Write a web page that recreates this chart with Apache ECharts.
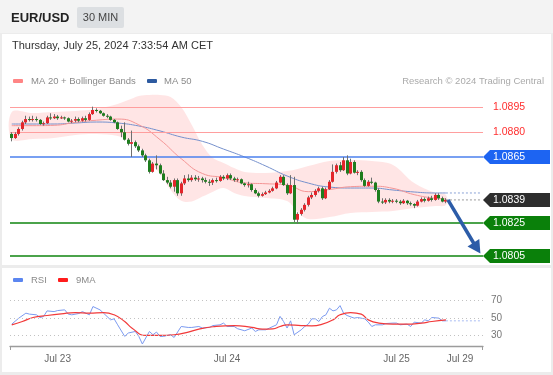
<!DOCTYPE html>
<html><head><meta charset="utf-8">
<script src="https://cdn.jsdelivr.net/npm/echarts@6/dist/echarts.min.js"></script>
<style>
html,body{margin:0;padding:0;background:#ececec;}
#wrap{position:relative;width:553px;height:375px;overflow:hidden;}
.bg{position:absolute;}
#c{position:absolute;left:0;top:0;width:553px;height:375px;}
</style>
</head><body>
<div id="wrap">
<div class="bg" style="left:0;top:0;width:553px;height:33px;background:#f3f3f3"></div>
<div class="bg" style="left:2px;top:34px;width:549px;height:231px;background:#fff"></div>
<div class="bg" style="left:2px;top:268px;width:549px;height:104px;background:#fff"></div>
<div id="c"></div>
</div>
<script>
const FONT = 'Arial, "Liberation Sans", sans-serif';
const instrument = 'EUR/USD';
const timeframe = '30 MIN';
const timestampText = 'Thursday, July 25, 2024 7:33:54 AM CET';
const copyrightText = 'Research \u00a9 2024 Trading Central';

const slotCount = 134;
const xTickIdx = [13, 61, 109, 127];
const xTickLabels = ['Jul 23', 'Jul 24', 'Jul 25', 'Jul 29'];

// [open, close, low, high]
const candles = [
[1.0879,1.08765,1.08745,1.0880],[1.08765,1.0879,1.0876,1.0880],[1.0879,1.0882,1.0878,1.0883],[1.0882,1.0886,1.0881,1.0887],
[1.0886,1.0888,1.0885,1.0890],[1.0888,1.08875,1.08865,1.08895],[1.08875,1.0888,1.08865,1.0890],[1.0888,1.08875,1.08865,1.08895],
[1.08875,1.0885,1.08845,1.0888],[1.0885,1.08855,1.0884,1.08865],[1.08855,1.0889,1.0885,1.0890],[1.0889,1.08885,1.08875,1.08915],
[1.08885,1.08895,1.0888,1.0891],[1.08895,1.08885,1.08875,1.08905],[1.08885,1.0889,1.0888,1.0890],[1.0889,1.08885,1.08875,1.08895],
[1.08885,1.08865,1.0886,1.0889],[1.08865,1.0887,1.08855,1.0888],[1.0887,1.0888,1.0886,1.08895],[1.0888,1.0887,1.0886,1.0889],
[1.0887,1.08885,1.08865,1.08895],[1.08885,1.08875,1.08865,1.0890],[1.08875,1.0891,1.0887,1.0892],[1.0891,1.08935,1.08905,1.08955],
[1.08935,1.0893,1.0892,1.08945],[1.0893,1.08915,1.0891,1.08935],[1.08915,1.0890,1.08895,1.0892],[1.0890,1.08895,1.08885,1.0891],
[1.08895,1.08875,1.0887,1.0890],[1.08875,1.0886,1.08855,1.0888],[1.0886,1.0882,1.08815,1.08865],[1.0882,1.0880,1.0877,1.0884],
[1.0880,1.08755,1.0875,1.0886],[1.08755,1.0873,1.0872,1.08765],[1.0873,1.0874,1.0865,1.0881],[1.0874,1.08715,1.08705,1.0875],
[1.08715,1.0869,1.0868,1.08725],[1.0869,1.0866,1.0865,1.0870],[1.0866,1.0863,1.0862,1.0867],[1.0863,1.0856,1.0855,1.0864],
[1.0856,1.0861,1.08555,1.0862],[1.0861,1.0860,1.08575,1.0866],[1.0860,1.0855,1.08545,1.0861],[1.0855,1.0851,1.08505,1.0857],
[1.0851,1.08495,1.08485,1.0853],[1.08495,1.0847,1.0846,1.0851],[1.0847,1.0851,1.0844,1.0852],[1.0851,1.0843,1.08415,1.0852],
[1.0843,1.0849,1.08415,1.0850],[1.0849,1.0852,1.0848,1.0854],[1.0852,1.0851,1.0850,1.08545],[1.0851,1.08525,1.0850,1.0854],
[1.08525,1.08515,1.08505,1.0854],[1.08515,1.0852,1.0850,1.08535],[1.0852,1.0851,1.08495,1.0853],[1.0851,1.0850,1.0849,1.08525],
[1.0850,1.08495,1.08475,1.08515],[1.08495,1.0851,1.0848,1.0852],[1.0851,1.08505,1.08495,1.08525],[1.08505,1.0853,1.0850,1.0854],
[1.0853,1.0852,1.0851,1.0854],[1.0852,1.0854,1.0851,1.0855],[1.0854,1.0852,1.0851,1.0855],[1.0852,1.0851,1.0850,1.0853],
[1.0851,1.08515,1.0850,1.08525],[1.08515,1.0849,1.08485,1.0852],[1.0849,1.0848,1.0847,1.08495],[1.0848,1.08485,1.08465,1.0850],
[1.08485,1.0845,1.0844,1.0849],[1.0845,1.0843,1.08425,1.0846],[1.0843,1.08415,1.08405,1.0844],[1.08415,1.08425,1.0841,1.08435],
[1.08425,1.08435,1.0842,1.08445],[1.08435,1.08445,1.0843,1.08455],[1.08445,1.0846,1.0844,1.0847],[1.0846,1.08495,1.08455,1.08505],
[1.08495,1.0853,1.0849,1.0854],[1.0853,1.0848,1.08475,1.0854],[1.0848,1.0843,1.0842,1.0849],[1.0843,1.0848,1.08425,1.0854],
[1.0848,1.0827,1.08255,1.0853],[1.0827,1.08305,1.08245,1.08315],[1.08305,1.0833,1.08295,1.0834],[1.0833,1.0836,1.0832,1.0837],
[1.0836,1.08405,1.0835,1.08415],[1.08405,1.0842,1.08395,1.08435],[1.0842,1.08445,1.0841,1.08455],[1.08445,1.0846,1.08435,1.0847],
[1.0846,1.0840,1.0839,1.0847],[1.0840,1.08455,1.08395,1.08465],[1.08455,1.0850,1.0845,1.0851],[1.0850,1.0856,1.08495,1.08605],
[1.0856,1.0860,1.0855,1.0861],[1.0860,1.0857,1.0856,1.0862],[1.0857,1.0863,1.08565,1.0865],[1.0863,1.0855,1.0854,1.0866],
[1.0855,1.0862,1.08545,1.0864],[1.0862,1.08555,1.0855,1.0863],[1.08555,1.0856,1.0854,1.0857],[1.0856,1.0851,1.0850,1.0857],
[1.0851,1.08475,1.0847,1.0852],[1.08475,1.0850,1.0847,1.0851],[1.0850,1.08495,1.08485,1.08525],[1.08495,1.0845,1.0844,1.0850],
[1.0845,1.0838,1.0837,1.0846],[1.0838,1.08375,1.08365,1.0840],[1.08375,1.0839,1.08365,1.0840],[1.0839,1.0838,1.0837,1.0840],
[1.0838,1.08385,1.0837,1.08395],[1.08385,1.0838,1.0837,1.08395],[1.0838,1.0837,1.0836,1.0839],[1.0837,1.08385,1.08365,1.08395],
[1.08385,1.0837,1.0836,1.0839],[1.0837,1.08365,1.08355,1.0838],[1.08365,1.08355,1.0834,1.0837],[1.08355,1.0838,1.0835,1.0839],
[1.0838,1.08395,1.08375,1.08405],[1.08395,1.08385,1.08375,1.08405],[1.08385,1.0840,1.0838,1.0841],[1.0840,1.0839,1.0838,1.08415],
[1.0839,1.0842,1.08385,1.0843],[1.0842,1.0840,1.0839,1.0843],[1.0840,1.0838,1.08375,1.0841],[1.0838,1.0839,1.0837,1.0840]
];

const bandIdx = [0,6,12,18,24,30,33,36,39,42,45,48,51,54,57,60,63,66,72,78,81,84,90,96,102,108,114,120,123];
const bbUpper = [1.08923,1.08917,1.08923,1.08929,1.08941,1.08971,1.08995,1.0902,1.09026,1.09026,1.09014,1.08953,1.08844,1.08723,1.08644,1.08614,1.08583,1.08559,1.08553,1.08565,1.08577,1.08595,1.08626,1.08632,1.08626,1.08602,1.08492,1.08432,1.0842];
const bbLower = [1.08759,1.08759,1.08765,1.08783,1.08789,1.08777,1.08753,1.08717,1.0862,1.0855,1.0845,1.08385,1.0838,1.0841,1.0844,1.08462,1.08432,1.08414,1.08402,1.08383,1.08317,1.08274,1.08286,1.08311,1.08317,1.08323,1.08341,1.08353,1.08359];

const maIdx = [0,6,12,18,24,30,36,42,48,54,60,66,72,78,84,90,96,102,108,114,120,123];
const ma20 = [1.0884,1.0884,1.08842,1.0886,1.08873,1.0888,1.08845,1.08755,1.0864,1.0855,1.08525,1.08493,1.08488,1.0848,1.0844,1.08453,1.0847,1.08473,1.0846,1.08422,1.084,1.08396];
const ma50 = [1.0885,1.0885,1.0885,1.08856,1.08862,1.08856,1.08838,1.08808,1.08771,1.08745,1.08698,1.0865,1.08595,1.08535,1.08492,1.08468,1.08462,1.08462,1.0845,1.08438,1.08432,1.08432];

const levelValues = [1.0895, 1.0880, 1.0865, 1.0839, 1.0825, 1.0805];
const levelLabels = ['1.0895', '1.0880', '1.0865', '1.0839', '1.0825', '1.0805'];
const levelKinds = ['resistance', 'resistance', 'pivot', 'last', 'support', 'support'];
const forecastTarget = [132, 1.0809];

const rsiIdx = [0,2,4,5,7,8,9,10,12,13,15,16,17,19,20,22,23,25,26,28,29,30,32,33,35,36,37,39,40,41,42,43,44,45,46,48,50,51,53,54,56,57,59,60,61,63,64,66,68,69,70,72,73,75,76,77,78,79,80,82,83,84,85,86,87,88,89,90,91,92,93,94,95,97,98,100,101,102,103,105,106,108,109,110,112,113,114,116,117,118,119,121,122,123];
const rsiVal = [43.1,50,55.7,54.6,53.8,50.7,51.8,58.3,57.5,58.7,59.5,54.6,53.8,55.3,57.5,53.8,63.3,59.5,55.7,48,49.2,42.3,29,32.9,34.7,29,20.3,34.7,30.9,34,29,29,30.1,30.9,27.8,40.4,39.3,39.3,40.4,38.6,39.3,41.5,42.3,44.3,40.4,40.4,37.8,35.5,38.6,34.7,36.6,36.6,38.6,42.3,52,46.1,38.6,46.9,30.9,36.6,40.4,43.1,49.2,49.2,46.1,51.8,53.8,61.4,58.3,59.5,64.4,55.7,53,50,50.7,49.2,45.4,40.4,42.3,42.3,43.8,44.3,44.3,42.3,43.1,40.4,45.4,44.3,48,46.9,50.7,50,46.9,46.9];
const ma9Idx = [0,3,6,10,14,18,22,26,29,32,34,38,42,46,50,53,57,63,68,71,74,76,78,82,85,88,91,93,96,99,101,104,108,112,116,119,123];
const ma9Val = [42.3,46.1,50.7,53,54.9,56.4,55.7,56.4,53.8,46.1,38.6,30.1,30.1,30.9,34,37.4,40.1,41.5,39.3,37.4,37.6,40.4,42.3,41.5,41.2,43.1,48,53.8,56.4,54.6,48,44.3,43.1,43.1,44.3,46.1,48];
const rsiLevels = [70, 50, 30];

// ---------- build ----------
const categories = Array.from({length: slotCount}, (_, i) => String(i));
const zip = (a, b) => a.map((v, i) => [v, b[i]]);
const lastIdx = candles.length - 1;
const lastClose = candles[lastIdx][1];
const endIdx = slotCount - 1;

const C_BULL = '#e3252b', C_BEAR = '#1e7d1e', C_WICK = '#6f6f6f';
const tagColors = {pivot: '#1d64f2', last: '#2e2e2e', support: '#0a800a'};
const lineColors = {resistance: '#ff9e9e', pivot: '#4b80ee', support: '#0f850f'};
const ARROW_COLOR = '#2c5ca8';

const chart = echarts.init(document.getElementById('c'), null, {renderer: 'canvas', width: 553, height: 375});

const txt = (x, y, text, size, color, extra) => Object.assign({
  type: 'text', x, y, silent: true,
  style: Object.assign({text, fontSize: size, fontFamily: FONT, fill: color, verticalAlign: 'middle', align: 'left'}, extra || {})
});
const rect = (x, y, w, h, color, r) => ({type: 'rect', silent: true, shape: {x, y, width: w, height: h, r: r || 0}, style: {fill: color}});

const option = {
  animation: false,
  textStyle: {fontFamily: FONT},
  grid: [
    {left: 10, right: 70, top: 90, height: 175},
    {left: 10, right: 70, top: 292, height: 54}
  ],
  xAxis: [
    {type: 'category', gridIndex: 0, data: categories, boundaryGap: true, show: false},
    {type: 'category', gridIndex: 1, data: categories, boundaryGap: true,
      axisLine: {show: true, lineStyle: {color: '#9c9c9c', width: 1.3}},
      axisTick: {show: false}, splitLine: {show: false},
      axisLabel: {
        interval: (i) => xTickIdx.includes(i),
        formatter: (v, i) => { const k = xTickIdx.indexOf(i); return k >= 0 ? xTickLabels[k] : ''; },
        color: '#666', fontSize: 10, margin: 8, fontFamily: FONT
      }}
  ],
  yAxis: [
    {type: 'value', gridIndex: 0, min: 1.079955, max: 1.090561, show: false, splitLine: {show: false}},
    {type: 'value', gridIndex: 1, min: 18, max: 80, show: false, splitLine: {show: false}}
  ],
  graphic: [
    rect(77, 7, 47, 21, '#dcdfe2', 2),
    txt(11, 18, instrument, 13, '#222', {fontWeight: 'bold'}),
    txt(100.5, 18, timeframe, 11, '#444', {align: 'center'}),
    txt(12, 45.5, timestampText, 11, '#333'),
    rect(13, 79, 10, 4, '#ff8585', 1),
    txt(31, 81.5, 'MA 20 + Bollinger Bands', 9.5, '#8a8a8a'),
    rect(147, 79, 10, 4, '#2d5aa0', 1),
    txt(164, 81.5, 'MA 50', 9.5, '#8a8a8a'),
    txt(544, 81.5, copyrightText, 9.5, '#aaaaaa', {align: 'right'}),
    rect(13, 278, 10, 4, '#5b86f0', 1),
    txt(31, 280.5, 'RSI', 9.5, '#8a8a8a'),
    rect(58, 278, 10, 4, '#ff1c1c', 1),
    txt(76, 280.5, '9MA', 9.5, '#8a8a8a'),
    {type: 'line', silent: true, shape: {x1: 10.5, y1: 346, x2: 10.5, y2: 350}, style: {stroke: '#9c9c9c', lineWidth: 1}},
    {type: 'line', silent: true, shape: {x1: 482.5, y1: 346, x2: 482.5, y2: 350}, style: {stroke: '#9c9c9c', lineWidth: 1}}
  ],
  series: [
    { // Bollinger band fill
      type: 'custom', xAxisIndex: 0, yAxisIndex: 0, silent: true, z: 1,
      data: [[0, bbUpper[0]]],
      renderItem: (params, api) => {
        const pts = [];
        bandIdx.forEach((ix, k) => pts.push(api.coord([ix, bbUpper[k]])));
        for (let k = bandIdx.length - 1; k >= 0; k--) pts.push(api.coord([bandIdx[k], bbLower[k]]));
        return {type: 'polygon', shape: {points: pts, smooth: 0.35}, style: {fill: 'rgba(255,110,110,0.18)'}};
      }
    },
    { // MA50 + level lines
      type: 'line', xAxisIndex: 0, yAxisIndex: 0, z: 2, silent: true,
      data: zip(maIdx, ma50), smooth: true, showSymbol: false,
      lineStyle: {color: '#7590cc', width: 1},
      markLine: {
        silent: true, symbol: 'none', label: {show: false}, precision: 5,
        data: levelValues.map((v, i) => levelKinds[i] === 'last' ? null : {
          yAxis: v, lineStyle: {color: lineColors[levelKinds[i]], width: levelKinds[i] === 'resistance' ? 1 : 1.6, type: 'solid'}
        }).filter(Boolean)
      }
    },
    { // MA20
      type: 'line', xAxisIndex: 0, yAxisIndex: 0, z: 3, silent: true,
      data: zip(maIdx, ma20), smooth: true, showSymbol: false,
      lineStyle: {color: '#f49595', width: 1}
    },
    { // candles
      type: 'custom', xAxisIndex: 0, yAxisIndex: 0, z: 5, silent: true,
      data: candles.map((d, i) => [i, d[0], d[1], d[2], d[3]]),
      encode: {x: 0, y: [1, 2, 3, 4]},
      renderItem: (params, api) => {
        const i = api.value(0), o = api.value(1), c = api.value(2), l = api.value(3), h = api.value(4);
        const po = api.coord([i, o]), pc = api.coord([i, c]), pl = api.coord([i, l]), ph = api.coord([i, h]);
        const xc = Math.floor(po[0]);
        const top = Math.min(po[1], pc[1]);
        const hgt = Math.max(1, Math.abs(po[1] - pc[1]));
        return {type: 'group', children: [
          {type: 'line', shape: {x1: xc + 0.5, y1: ph[1], x2: xc + 0.5, y2: pl[1]}, style: {stroke: C_WICK, lineWidth: 1}},
          {type: 'rect', shape: {x: xc - 1, y: top, width: 3, height: hgt}, style: {fill: c >= o ? C_BULL : C_BEAR}}
        ]};
      }
    },
    { // MA50 projection (dotted)
      type: 'line', xAxisIndex: 0, yAxisIndex: 0, z: 4, silent: true, showSymbol: false,
      data: [[lastIdx, ma50[ma50.length - 1]], [endIdx, ma50[ma50.length - 1]]],
      lineStyle: {color: '#8aa2d6', width: 1, type: [2, 2]}
    },
    { // last price dotted
      type: 'line', xAxisIndex: 0, yAxisIndex: 0, z: 6, silent: true, showSymbol: false,
      data: [[lastIdx, lastClose], [endIdx, lastClose]],
      lineStyle: {color: '#9a9a9a', width: 1, type: [2, 2]}
    },
    { // forecast arrow: shaft + filled head, positioned through the axes
      type: 'custom', xAxisIndex: 0, yAxisIndex: 0, z: 9, silent: true, clip: false,
      data: [[lastIdx, lastClose, forecastTarget[0], forecastTarget[1]]],
      encode: {x: [0, 2], y: [1, 3]},
      renderItem: (params, api) => {
        const p0 = api.coord([api.value(0), api.value(1)]);
        const p1 = api.coord([api.value(2), api.value(3)]);
        const dx = p1[0] - p0[0], dy = p1[1] - p0[1];
        const len = Math.sqrt(dx * dx + dy * dy), ux = dx / len, uy = dy / len;
        const headL = 13, headW = 7;
        const tip = [p1[0] + ux * 5, p1[1] + uy * 5];
        const base = [tip[0] - ux * headL, tip[1] - uy * headL];
        return {type: 'group', children: [
          {type: 'line', shape: {x1: p0[0] + 2, y1: p0[1], x2: base[0] + ux, y2: base[1] + uy}, style: {stroke: ARROW_COLOR, lineWidth: 3.5}},
          {type: 'polygon', shape: {points: [tip, [base[0] - uy * headW, base[1] + ux * headW], [base[0] + uy * headW, base[1] - ux * headW]]},
            style: {fill: ARROW_COLOR}}
        ]};
      }
    },
    { // level tags
      type: 'custom', xAxisIndex: 0, yAxisIndex: 0, z: 8, silent: true, clip: false,
      data: levelValues.map((v, i) => [i, v]),
      encode: {x: 0, y: 1},
      renderItem: (params, api) => {
        const k = params.dataIndex;
        const y = api.coord([0, api.value(1)])[1];
        const x0 = params.coordSys.x + params.coordSys.width;
        const kind = levelKinds[k];
        const label = {type: 'text', x: x0 + 10, y: y, style: {text: levelLabels[k], fontSize: 10.5, fontFamily: FONT,
          fill: kind === 'resistance' ? '#ff2f2f' : '#ffffff', verticalAlign: 'middle', align: 'left'}};
        if (kind === 'resistance') return label;
        return {type: 'group', children: [
          {type: 'polygon', shape: {points: [[x0, y], [x0 + 7, y - 7], [x0 + 67, y - 7], [x0 + 67, y + 7], [x0 + 7, y + 7]]},
            style: {fill: tagColors[kind]}},
          label
        ]};
      }
    },
    { // RSI
      type: 'line', xAxisIndex: 1, yAxisIndex: 1, z: 3, silent: true, showSymbol: false,
      data: zip(rsiIdx, rsiVal),
      lineStyle: {color: '#7b9af0', width: 1},
      markLine: {
        silent: true, symbol: 'none', precision: 0,
        lineStyle: {color: '#c2c2c2', width: 1, type: [1, 3]},
        label: {show: true, position: 'end', distance: 8, color: '#777', fontSize: 10, fontFamily: FONT, formatter: (p) => String(p.value)},
        data: rsiLevels.map(v => ({yAxis: v}))
      }
    },
    { // RSI 9MA
      type: 'line', xAxisIndex: 1, yAxisIndex: 1, z: 4, silent: true, showSymbol: false, smooth: true,
      data: zip(ma9Idx, ma9Val),
      lineStyle: {color: '#f23a3a', width: 1.2}
    },
    { // RSI projection
      type: 'line', xAxisIndex: 1, yAxisIndex: 1, z: 3, silent: true, showSymbol: false,
      data: [[lastIdx, rsiVal[rsiVal.length - 1]], [endIdx, rsiVal[rsiVal.length - 1]]],
      lineStyle: {color: '#a9bdf3', width: 1, type: [2, 2]}
    }
  ]
};
chart.setOption(option);
</script>
</body></html>
